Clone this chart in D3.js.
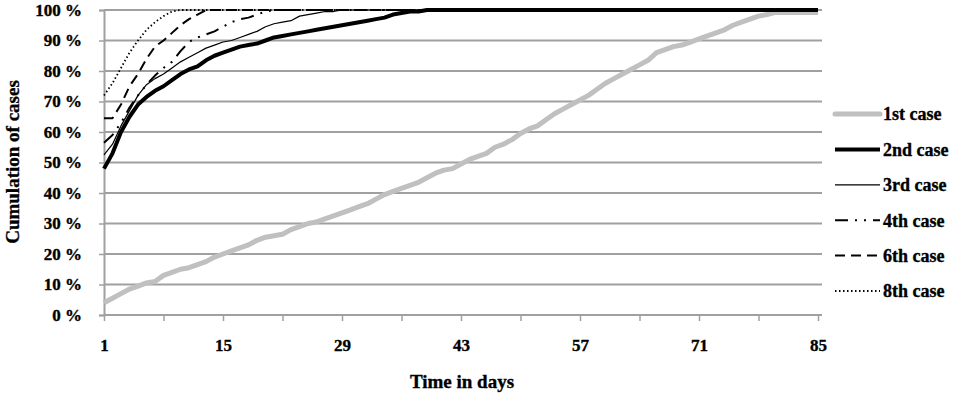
<!DOCTYPE html>
<html>
<head>
<meta charset="utf-8">
<script src="https://cdn.jsdelivr.net/npm/d3@7"></script>
<style>
  body { margin: 0; background: #fff; }
  text { font-family: "Liberation Serif", "Times New Roman", serif; font-weight: bold; fill: #000; stroke: #000; stroke-width: 0.35px; }
</style>
</head>
<body>
<div class="svg"></div>
<script>
//Data
var days = d3.range(1, 86);

var xTickValues = [1, 8, 15, 22, 29, 36, 43, 50, 57, 64, 71, 78, 85];
var xLabelValues = [1, 15, 29, 43, 57, 71, 85];
var yTickValues = [0, 10, 20, 30, 40, 50, 60, 70, 80, 90, 100];

var seriesNames = ["1st case", "2nd case", "3rd case", "4th case", "6th case", "8th case"];

var case1 = [4,5.5,7,8.5,9.5,10.5,11,13,14,15,
  15.5,16.5,17.5,19,20,21,22,23,24.5,25.5,
  26,26.5,28,29,30,30.5,31.5,32.5,33.5,34.5,
  35.5,36.5,38,39.5,40.5,41.5,42.5,43.5,45,46.5,
  47.5,48,49.5,51,52,53,55,56,57.5,59.5,
  61,62,64,66,67.5,69,70.5,72,74,76,
  77.5,79,80.5,82,83.5,86,87,88,88.5,89.5,
  90.5,91.5,92.5,93.5,95,96,97,98,98.5,99.2,
  99.2,99.2,99.2,99.2,99.2];

var case2 = [48,53,60,65,69,71.5,73.5,75,77,79,
  80.5,81.5,83.5,85,86,87,88,88.5,89,90,
  91,91.5,92,92.5,93,93.5,94,94.5,95,95.5,
  96,96.5,97,97.5,98.5,99,99.5,99.5,100,100,
  100,100,100,100,100,100,100,100,100,100,
  100,100,100,100,100,100,100,100,100,100,
  100,100,100,100,100,100,100,100,100,100,
  100,100,100,100,100,100,100,100,100,100,
  100,100,100,100,100];

var case3 = [52.5,56,62,67,72,75.5,77.5,79,81,83,
  84.5,86,87.5,88.5,89.5,90,91,92,93,94.5,
  95.5,96,96.5,98,98.5,99,99.5,99.5,100,100,
  100,100,100,100,100,100,100,100,100,100,
  100,100,100,100,100,100,100,100,100,100,
  100,100,100,100,100,100,100,100,100,100,
  100,100,100,100,100,100,100,100,100,100,
  100,100,100,100,100,100,100,100,100,100,
  100,100,100,100,100];

var case4 = [56.5,59,63,68,72,75.5,78.5,81,83,86.5,
  89.5,91,92,93,94.5,96,97,97.5,98.5,99.5,
  100,100,100,100,100,100,100,100,100,100,
  100,100,100,100,100,100,100,100,100,100,
  100,100,100,100,100,100,100,100,100,100,
  100,100,100,100,100,100,100,100,100,100,
  100,100,100,100,100,100,100,100,100,100,
  100,100,100,100,100,100,100,100,100,100,
  100,100,100,100,100];

var case6 = [64.5,64.5,69,75,79,84,88,90,92.5,95,
  97,98.5,100,100,100,100,100,100,100,100,
  100,100,100,100,100,100,100,100,100,100,
  100,100,100,100,100,100,100,100,100,100,
  100,100,100,100,100,100,100,100,100,100,
  100,100,100,100,100,100,100,100,100,100,
  100,100,100,100,100,100,100,100,100,100,
  100,100,100,100,100,100,100,100,100,100,
  100,100,100,100,100];

var case8 = [72,76,81,86,90,93.5,96,98,99.5,100,
  100,100,100,100,100,100,100,100,100,100,
  100,100,100,100,100,100,100,100,100,100,
  100,100,100,100,100,100,100,100,100,100,
  100,100,100,100,100,100,100,100,100,100,
  100,100,100,100,100,100,100,100,100,100,
  100,100,100,100,100,100,100,100,100,100,
  100,100,100,100,100,100,100,100,100,100,
  100,100,100,100,100];

//Config
var width = 957,
    height = 395,
    plot = { left : 104, right : 822, top : 10, bottom : 315 },
    lastX = 818;

var styles = [
  { stroke : "#c0c0c0", width : 5, dash : null },
  { stroke : "#000", width : 4, dash : null },
  { stroke : "#000", width : 1.2, dash : null },
  { stroke : "#000", width : 2, dash : "13,7,2,7,2,7" },
  { stroke : "#000", width : 2, dash : "10,6" },
  { stroke : "#000", width : 1.8, dash : "1.5,2.5" }
];

var allSeries = [case1, case2, case3, case4, case6, case8];

//Scales
var x = d3.scaleLinear().domain([1, 85]).range([plot.left, lastX]);
var y = d3.scaleLinear().domain([0, 100]).range([plot.bottom, plot.top]);

var svg = d3.select(".svg")
  .append("svg")
  .attr("width", width)
  .attr("height", height);

//Gridlines
svg.append("g")
  .selectAll("line")
  .data(yTickValues.slice(1))
  .enter()
  .append("line")
  .attr("x1", plot.left)
  .attr("x2", plot.right)
  .attr("y1", function (d) { return y(d); })
  .attr("y2", function (d) { return y(d); })
  .style("stroke", "#a0a0a0")
  .style("stroke-width", "2px");

//Y axis
var yAxis = svg.append("g")
  .attr("transform", "translate(" + plot.left + ",0)")
  .call(d3.axisLeft(y)
    .tickValues(yTickValues)
    .tickSize(5)
    .tickPadding(17)
    .tickFormat(function (d) { return d + " %"; }));

yAxis.select(".domain").style("stroke", "#a0a0a0").style("stroke-width", "2px");
yAxis.selectAll(".tick line").style("stroke", "#a0a0a0").style("stroke-width", "1.5px");
yAxis.selectAll(".tick text")
  .style("font-size", "17px")
  .style("font-family", "'Liberation Serif', serif")
  .style("font-weight", "bold")
  .style("fill", "#000");

//X axis
var xAxis = svg.append("g")
  .attr("transform", "translate(0," + plot.bottom + ")")
  .call(d3.axisBottom(x)
    .tickValues(xTickValues)
    .tickSize(6)
    .tickSizeOuter(0)
    .tickPadding(18)
    .tickFormat(function (d) { return xLabelValues.indexOf(d) >= 0 ? d : ""; }));

xAxis.select(".domain")
  .attr("d", "M" + plot.left + ",0H" + plot.right)
  .style("stroke", "#a0a0a0").style("stroke-width", "2px");
xAxis.selectAll(".tick line").style("stroke", "#a0a0a0").style("stroke-width", "1.5px");
xAxis.selectAll(".tick text")
  .style("font-size", "17px")
  .style("font-family", "'Liberation Serif', serif")
  .style("font-weight", "bold")
  .style("fill", "#000");

//Lines
var line = d3.line()
  .x(function (d, i) { return x(days[i]); })
  .y(function (d) { return y(d); });

svg.append("g")
  .selectAll("path")
  .data(allSeries)
  .enter()
  .append("path")
  .attr("d", line)
  .style("fill", "none")
  .style("stroke", function (d, i) { return styles[i].stroke; })
  .style("stroke-width", function (d, i) { return styles[i].width + "px"; })
  .style("stroke-dasharray", function (d, i) { return styles[i].dash; })
  .style("stroke-linejoin", "round");

//Legend
var legend = svg.append("g")
  .selectAll("g")
  .data(seriesNames)
  .enter()
  .append("g")
  .attr("transform", function (d, i) { return "translate(835," + (114 + i * 35.4) + ")"; });

legend.append("line")
  .attr("x1", 0)
  .attr("x2", 45)
  .style("stroke", function (d, i) { return styles[i].stroke; })
  .style("stroke-width", function (d, i) { return styles[i].width + "px"; })
  .style("stroke-dasharray", function (d, i) { return styles[i].dash; })
  .style("stroke-linecap", function (d, i) { return i === 0 ? "round" : "butt"; });

legend.append("text")
  .attr("x", 48)
  .attr("dy", "0.35em")
  .style("font-size", "18px")
  .text(function (d) { return d; });

//Titles
svg.append("text")
  .attr("transform", "translate(19,162) rotate(-90)")
  .style("text-anchor", "middle")
  .style("font-size", "19px")
  .text("Cumulation of cases");

svg.append("text")
  .attr("x", 462)
  .attr("y", 388)
  .style("text-anchor", "middle")
  .style("font-size", "19px")
  .text("Time in days");
</script>
</body>
</html>
